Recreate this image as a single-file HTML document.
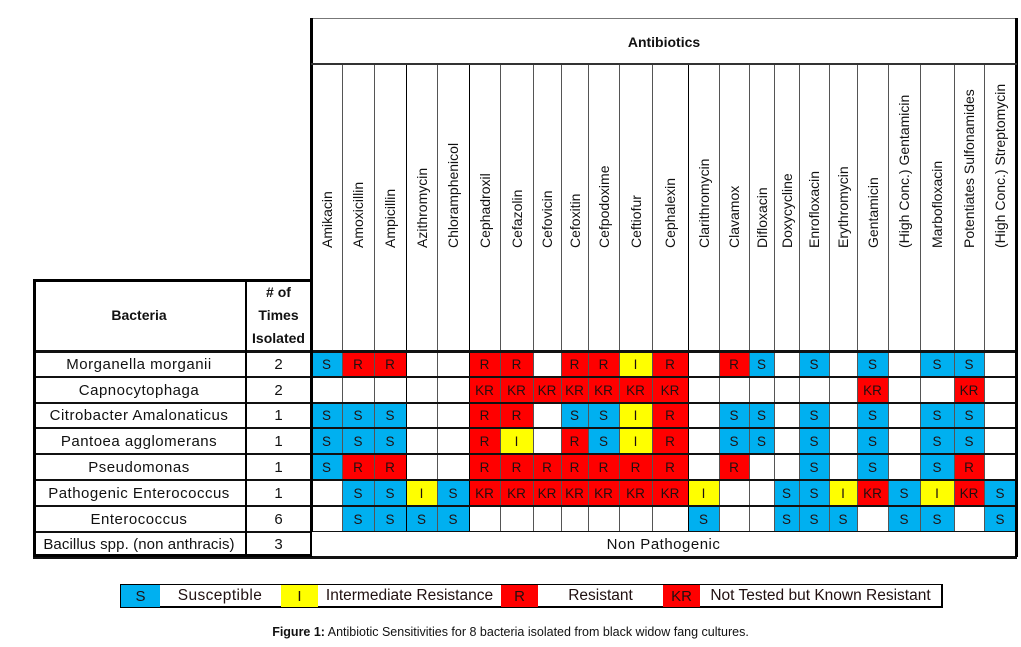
<!DOCTYPE html>
<html><head><meta charset="utf-8">
<style>
body{margin:0;background:#fff;width:1021px;height:647px;position:relative;overflow:hidden;font-family:"Liberation Sans",sans-serif;}
.a{position:absolute;box-sizing:border-box;}
.t{position:absolute;font-size:13px;color:#111;text-align:center;white-space:nowrap;}
.c{position:absolute;font-size:13.5px;color:#201010;display:flex;align-items:center;justify-content:center;white-space:nowrap;}
.v{position:absolute;font-size:14px;color:#111;white-space:nowrap;transform-origin:0 0;transform:rotate(-90deg);}
</style></head><body>
<div id="root"></div>
<div class="a" style="left:120px;top:584px;width:823px;height:24px;border:2px solid #000;border-top:1px solid #000;"></div>
<div class="c" style="left:121px;top:585px;width:39px;height:22px;background:#00b0f0;font-size:15px;">S</div>
<div class="c" style="left:160px;top:585px;width:120px;height:22px;font-size:15.5px;letter-spacing:0.4px;">Susceptible</div>
<div class="c" style="left:281px;top:585px;width:37px;height:22px;background:#ffff00;font-size:15px;">I</div>
<div class="c" style="left:318px;top:585px;width:183px;height:22px;font-size:15.5px;">Intermediate Resistance</div>
<div class="c" style="left:501px;top:585px;width:37px;height:22px;background:#ff0000;font-size:15px;">R</div>
<div class="c" style="left:538px;top:585px;width:125px;height:22px;font-size:15.5px;">Resistant</div>
<div class="c" style="left:663px;top:585px;width:37px;height:22px;background:#ff0000;font-size:15px;">KR</div>
<div class="c" style="left:700px;top:585px;width:241px;height:22px;font-size:15.5px;">Not Tested but Known Resistant</div>
<div class="t" style="left:0;width:1021px;top:625px;font-size:12.5px;"><b>Figure 1:</b> Antibiotic Sensitivities for 8 bacteria isolated from black widow fang cultures.</div>
<script>
const antibiotics=["Amikacin","Amoxicillin","Ampicillin","Azithromycin","Chloramphenicol","Cephadroxil","Cefazolin","Cefovicin","Cefoxitin","Cefpodoxime","Ceftiofur","Cephalexin","Clarithromycin","Clavamox","Difloxacin","Doxycycline","Enrofloxacin","Erythromycin","Gentamicin","(High Conc.) Gentamicin","Marbofloxacin","Potentiates Sulfonamides","(High Conc.) Streptomycin"];
const bacteria=["Morganella morganii","Capnocytophaga","Citrobacter Amalonaticus","Pantoea agglomerans","Pseudomonas","Pathogenic Enterococcus","Enterococcus","Bacillus spp. (non anthracis)"];
const timesIsolated=[2,2,1,1,1,1,6,3];
const results=[
"S R R _ _ R R _ R R I R _ R S _ S _ S _ S S _",
"_ _ _ _ _ KR KR KR KR KR KR KR _ _ _ _ _ _ KR _ _ KR _",
"S S S _ _ R R _ S S I R _ S S _ S _ S _ S S _",
"S S S _ _ R I _ R S I R _ S S _ S _ S _ S S _",
"S R R _ _ R R R R R R R _ R _ _ S _ S _ S R _",
"_ S S I S KR KR KR KR KR KR KR I _ _ S S I KR S I KR S",
"_ S S S S _ _ _ _ _ _ _ S _ _ S S S _ S S _ S"
];
const colX=[311,342,374,406,437,469,500,533,561,588,619,652,688,719,749,774,799,829,857,888,920,954,984,1016];
const rowY=[351,377,403,428,454,480,506,532,557];
const colors={S:"#00b0f0",I:"#ffff00",R:"#ff0000",KR:"#ff0000"};
const root=document.getElementById('root');
function box(name,x,y,w,h,style,text,cls){const d=document.createElement('div');d.className=cls||'a';


d.style.cssText=`left:${x}px;top:${y}px;width:${w}px;height:${h}px;`+(style||'');if(text!==undefined)d.textContent=text;root.appendChild(d);return d;}
results.forEach((row,r)=>{row.split(' ').forEach((v,c)=>{if(v==='_')return;
box('cell-'+r+'-'+c,colX[c],rowY[r],colX[c+1]-colX[c],rowY[r+1]-rowY[r],'background:'+colors[v]+';',v,'c');});});
for(let c=0;c<colX.length;c++){const thick=(c===0||c===colX.length-1)?2:1;
box('col-line-'+c,colX[c]-(thick>1?1:0),64,thick,rowY[7]-64,'background:'+(c===0||[3,5,12].includes(c)||c===23?'#000':'#555')+';');}
rowY.forEach((y,i)=>{box('row-line-'+i,33,y-1,984,i===0||i===8?3:2,'background:#111;');});
box('header-top',311,18,706,1,'background:#777;');
box('header-left',310,18,3,rowY[8]-18,'background:#000;');
box('header-right',1015,18,3,rowY[8]-18,'background:#000;');
box('header-bottom',311,63,706,2,'background:#333;');
box('bacteria-header-box',33,279,278,rowY[8]-279,'border:3px solid #000;border-right:none;');
box('count-col-line',245,279,2,rowY[8]-279,'background:#000;');
box('bacteria-header',33,279,212,72,'font-weight:bold;font-size:14px;color:#111;','Bacteria','c');
const th=box('times-header',246,279,65,72,'font-weight:bold;font-size:14px;color:#111;line-height:23px;flex-direction:column;','','c');th.innerHTML='<span># of</span><span>Times</span><span>Isolated</span>';
box('antibiotics-header',311,19,706,45,'font-weight:bold;font-size:14px;color:#111;','Antibiotics','c');
antibiotics.forEach((a,c)=>{const cx=(colX[c]+colX[c+1])/2;box('antibiotic-label',cx-9,248,220,18,'line-height:18px;',a,'v');});
bacteria.forEach((b,r)=>{box('bacteria-name',33,rowY[r],212,rowY[r+1]-rowY[r],'font-size:15px;letter-spacing:'+(r===7?'0.1px':'0.5px')+';color:#111;',b,'c');
box('times-isolated',246,rowY[r],65,rowY[r+1]-rowY[r],'font-size:15px;color:#111;',String(timesIsolated[r]),'c');});
box('non-pathogenic',312,rowY[7],703,rowY[8]-rowY[7]-1,'background:#fff;font-size:15px;letter-spacing:0.5px;color:#111;','Non Pathogenic','c');
</script>
</body></html>
